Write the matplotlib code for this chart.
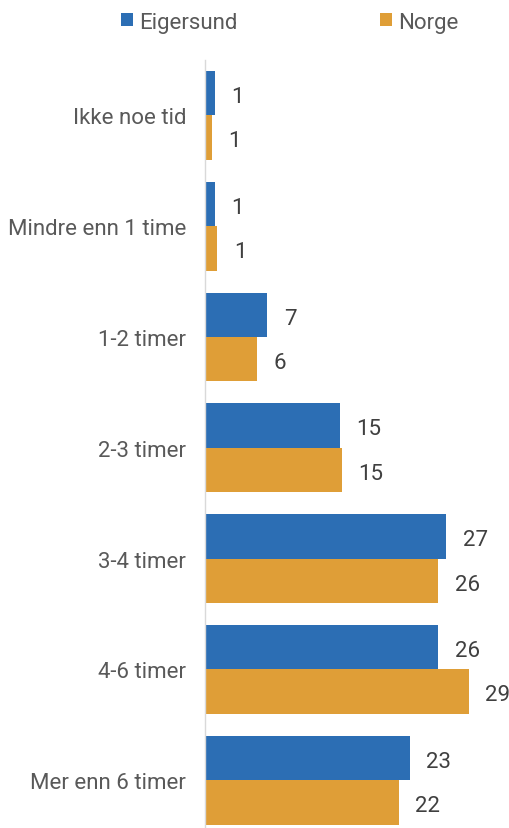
import matplotlib
matplotlib.use("Agg")
import matplotlib.pyplot as plt
import numpy as np

categories = ["Ikke noe tid", "Mindre enn 1 time", "1-2 timer", "2-3 timer",
              "3-4 timer", "4-6 timer", "Mer enn 6 timer"]
eigersund = [1.06, 1.06, 6.9, 15.0, 26.9, 26.0, 22.8]
norge = [0.7, 1.3, 5.7, 15.25, 26.0, 29.4, 21.6]
series_names = ["Eigersund", "Norge"]

BLUE = "#2C6EB4"
ORANGE = "#DF9E37"
TXT = "#595959"
LBL = "#404040"

plt.rcParams['font.family'] = ['Roboto', 'DejaVu Sans']

W, H = 510, 829
fig = plt.figure(figsize=(W / 100, H / 100), dpi=100)
ax_left, ax_top, ax_bottom = 205.5, 61.0, 829.0
ax = fig.add_axes([ax_left / W, 1 - ax_bottom / H, (W - ax_left) / W, (ax_bottom - ax_top) / H])

slot = 110.8  # px per category
n = len(categories)
y = np.arange(n)
h = 0.4
b1 = ax.barh(y - h / 2, eigersund, height=h, color=BLUE, label=series_names[0])
b2 = ax.barh(y + h / 2, norge, height=h, color=ORANGE, label=series_names[1])

scale = 8.95  # px per unit
ax.set_xlim(0, (W - ax_left) / scale)
ax.set_ylim(-0.5 + (ax_bottom - ax_top) / slot, -0.5)

fs = 16
for bars, vals in ((b1, eigersund), (b2, norge)):
    texts = ax.bar_label(bars, labels=[f"{round(v)}" for v in vals], padding=12,
                         fontsize=fs, color=LBL, clip_on=False)
    for t in texts:
        t.xyann = (12, -2.4)

ax.set_yticks(y)
ax.set_yticklabels(categories, fontsize=fs, color=TXT)
ax.tick_params(axis='y', length=0, pad=14)
ax.set_xticks([])
for s in ("top", "right", "bottom"):
    ax.spines[s].set_visible(False)
ax.spines["left"].set_color("#D9D9D9")
ax.spines["left"].set_linewidth(1.0)

leg = fig.legend(handles=[b1, b2], labels=series_names, loc="center",
                 bbox_to_anchor=(289.5 / W, 1 - 23 / H), ncol=2, frameon=False,
                 fontsize=fs, handlelength=0.55, handleheight=0.55,
                 handletextpad=0.27, columnspacing=6.4, borderpad=0)
for t in leg.get_texts():
    t.set_color(TXT)

fig.savefig("out.png", dpi=100)
